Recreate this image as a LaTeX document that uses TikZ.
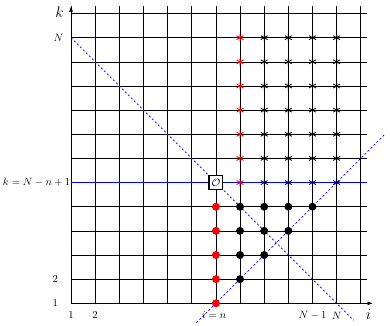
\documentclass[tikz,border=0pt]{standalone}
\usepackage{amsmath,amssymb}
\usepackage{tikz}
\usetikzlibrary{arrows.meta}
\definecolor{cutblue}{RGB}{0,0,255}
\newcommand{\gridstar}[3]{\draw[#1,line width=0.8pt] (#2,#3) ++(0,0.165) -- ++(0,-0.33)
  (#2,#3) ++(30:0.165) -- ++(210:0.33) (#2,#3) ++(150:0.165) -- ++(330:0.33);}
\newcommand{\griddot}[3]{\fill[#1] (#2,#3) circle (0.165);}

\begin{document}
\begin{tikzpicture}[scale=0.8]
\useasboundingbox (-1.94,0.1) rectangle (14.21,13.56);
\draw[line width=0.6pt] (1,1) grid (13.25,13.3);
\draw[line width=0.6pt,-{Latex[length=5pt]}] (1,1) -- (13.5,1);
\draw[line width=0.6pt,-{Latex[length=5pt]}] (1,1) -- (1,13.3);
\draw[cutblue,line width=0.7pt] (1,6) -- (13.25,6);
\draw[cutblue,line width=0.6pt,dash pattern=on 2pt off 2pt] (1,12) -- (12.7,0.3);
\draw[cutblue,line width=0.6pt,dash pattern=on 2pt off 2pt] (6.2,0.2) -- (14,8);
% sampled points below the cut
\foreach \k in {1,...,5}{\griddot{red}{7}{\k}}
\foreach \k/\m in {2/8,3/9,4/10,5/11}{
  \foreach \i in {8,...,\m}{\griddot{black}{\i}{\k}}
}
% stars above the cut
\foreach \k in {6,...,12}{
  \gridstar{red}{8}{\k}
  \foreach \i in {9,...,12}{\gridstar{black}{\i}{\k}}
}
\node[draw,line width=1pt,fill=white,minimum size=13pt,inner sep=1pt] (origin) at (7,6) {$\mathcal{O}$};
\node[font=\Large] (klab) at (0.52,13.07) {$k$};
\node[font=\Large] (ilab) at (13.32,0.55) {$i$};
\node (kN) at (0.48,12) {$N$};
\node[anchor=east,inner sep=0.5pt] (kcut) at (1,6) {$k=N-n+1$};
\node (ktwo) at (0.35,2) {$2$};
\node (kone) at (0.35,1) {$1$};
\foreach \x/\t [count=\j] in {1/1,2/2,6.93/{i=n},11/{N-1},12/N}{
  \node (bot\j) at (\x,0.5) {$\t$};
}
\end{tikzpicture}
\end{document}
